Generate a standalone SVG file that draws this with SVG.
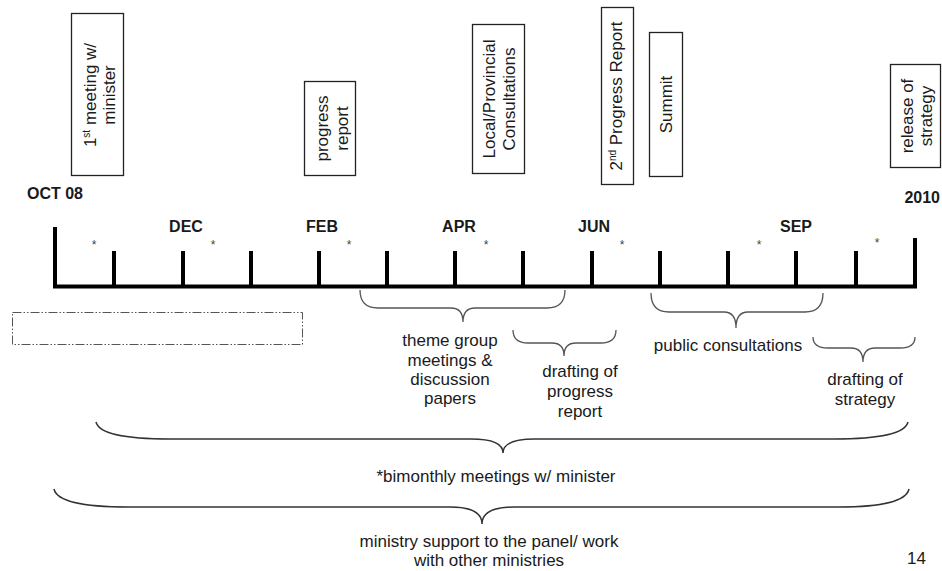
<svg xmlns="http://www.w3.org/2000/svg" width="942" height="571" viewBox="0 0 942 571">
<style>
text{font-family:"Liberation Sans",Arial,sans-serif;fill:#1a1a1a}
.lbl{font-size:17px;text-anchor:middle}
.mo{font-size:16px;font-weight:bold;text-anchor:middle}
.star{font-size:12px;text-anchor:middle;fill:#444}
.box{fill:#fff;stroke:#222;stroke-width:1.3}
.tl{stroke:#000;stroke-width:4;fill:none}
.br{fill:none;stroke:#555;stroke-width:1.3}
.bb{fill:none;stroke:#333;stroke-width:1.5}
.dash{fill:none;stroke:#555;stroke-width:1;stroke-dasharray:9 2 1.5 2 1.5 2}
</style>
<rect width="942" height="571" fill="#fff"/>

<g id="box-first-meeting">
<rect class="box" x="71.5" y="13.5" width="52" height="162"/>
<text class="lbl" transform="translate(96,95) rotate(-90)">1<tspan font-size="10" baseline-shift="6">st</tspan> meeting  w/</text>
<text class="lbl" transform="translate(115,95) rotate(-90)">minister</text>
</g>
<g id="box-progress-report">
<rect class="box" x="304.5" y="81.5" width="51" height="94"/>
<text class="lbl" transform="translate(328,128.5) rotate(-90)">progress</text>
<text class="lbl" transform="translate(348,128.5) rotate(-90)">report</text>
</g>
<g id="box-consultations">
<rect class="box" x="472.5" y="24.5" width="52" height="149"/>
<text class="lbl" transform="translate(495,99) rotate(-90)">Local/Provincial</text>
<text class="lbl" transform="translate(515,99) rotate(-90)">Consultations</text>
</g>
<g id="box-2nd-progress">
<rect class="box" x="601.5" y="7.5" width="32" height="177"/>
<text class="lbl" transform="translate(622,96) rotate(-90)">2<tspan font-size="10" baseline-shift="6">nd</tspan> Progress Report</text>
</g>
<g id="box-summit">
<rect class="box" x="649.5" y="32.5" width="33" height="144"/>
<text class="lbl" transform="translate(672,104.5) rotate(-90)">Summit</text>
</g>
<g id="box-release">
<rect class="box" x="890.5" y="64.5" width="50" height="103"/>
<text class="lbl" transform="translate(913,116) rotate(-90)">release of</text>
<text class="lbl" transform="translate(932,116) rotate(-90)">strategy</text>
</g>

<g id="timeline">
<path class="tl" d="M53,286.5 H917 M55,227 V288 M915,238 V288"/>
<path class="tl" d="M114,251 V286 M183,251 V286 M251,251 V286 M319,251 V286 M387,251 V286 M455,251 V286 M523,251 V286 M592,251 V286 M660,251 V286 M728,251 V286 M796,251 V286 M856,251 V286"/>
<text x="27" y="199" style="font-size:16px;font-weight:bold">OCT 08</text>
<text x="940" y="203" style="font-size:16px;font-weight:bold;text-anchor:end">2010</text>
<text class="mo" x="186" y="232">DEC</text>
<text class="mo" x="322" y="232">FEB</text>
<text class="mo" x="459" y="232">APR</text>
<text class="mo" x="594" y="232">JUN</text>
<text class="mo" x="796" y="232">SEP</text>
<text class="star" x="94" y="249">*</text>
<text class="star" x="213" y="249">*</text>
<text class="star" x="349" y="249">*</text>
<text class="star" x="486" y="249">*</text>
<text class="star" x="622" y="249">*</text>
<text class="star" x="759" y="249">*</text>
<text class="star" x="877" y="247">*</text>
</g>

<g id="placeholder">
<rect class="dash" x="12.5" y="312.5" width="290" height="32"/>
</g>

<g id="connectors">
<path class="br" d="M360,290 Q360,308 378,308 L451,308 Q463,308 463,322 Q463,308 475,308 L547,308 Q565,308 565,290"/>
<path class="br" d="M513,330 Q513,343 528,343 L552,343 Q564,343 564,356 Q564,343 576,343 L601,343 Q616,343 616,330"/>
<path class="br" d="M651,293 Q651,312 669,312 L724,312 Q736,312 736,328 Q736,312 748,312 L805,312 Q823,312 823,293"/>
<path class="br" d="M813,337 Q813,348 828,348 L851,348 Q863,348 863,362 Q863,348 875,348 L900,348 Q915,348 915,337"/>
<path class="bb" d="M96,422 Q100,439 170,439 L471,439 Q503,439 503,453 Q503,439 535,439 L834,439 Q904,439 908,422"/>
<path class="bb" d="M54,489 Q58,507 128,507 L450,507 Q482,507 482,524 Q482,507 514,507 L839,507 Q905,507 909,489"/>
</g>

<g id="label-theme-group">
<text class="lbl" x="450" y="346">theme group</text>
<text class="lbl" x="450" y="366">meetings &amp;</text>
<text class="lbl" x="450" y="385">discussion</text>
<text class="lbl" x="450" y="404">papers</text>
</g>
<g id="label-drafting-progress">
<text class="lbl" x="580" y="377">drafting of</text>
<text class="lbl" x="580" y="397">progress</text>
<text class="lbl" x="580" y="417">report</text>
</g>
<g id="label-public">
<text class="lbl" x="728" y="351">public consultations</text>
</g>
<g id="label-drafting-strategy">
<text class="lbl" x="865" y="385">drafting of</text>
<text class="lbl" x="865" y="405">strategy</text>
</g>
<g id="label-bimonthly">
<text class="lbl" x="496" y="482">*bimonthly meetings w/ minister</text>
</g>
<g id="label-ministry">
<text class="lbl" x="489" y="547">ministry support to the panel/ work</text>
<text class="lbl" x="489" y="566">with other ministries</text>
</g>
<text x="907" y="564" style="font-size:17px">14</text>
</svg>
